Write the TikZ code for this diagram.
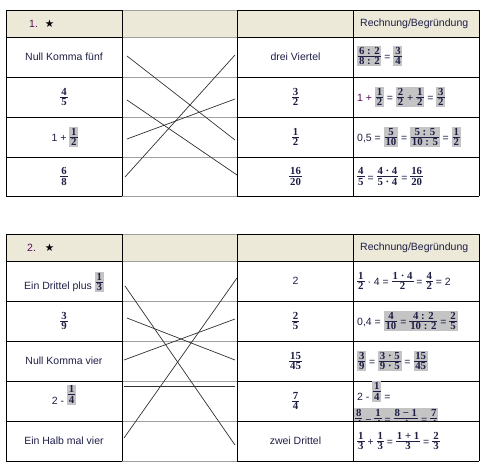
\documentclass[tikz,border=0pt]{standalone}
\usepackage{fontspec}
\usepackage{xcolor}
\setmainfont{Liberation Sans}
\newfontfamily\fserif{Liberation Serif}
\newfontfamily\dejavu{DejaVu Sans}
\definecolor{hdr}{HTML}{ECE9D8}
\definecolor{gridc}{HTML}{A0A0A0}
\definecolor{hl}{HTML}{C4C4C4}
\definecolor{txt}{HTML}{1E1E46}
\definecolor{purp}{HTML}{5A0A5A}
\definecolor{lin}{HTML}{303030}
\newcommand\Fr[2]{$\vcenter{\fserif\bfseries\fontsize{10.8}{10.8}\selectfont\offinterlineskip\halign{\hfil\kern1pt##\kern1pt\hfil\cr\vphantom{0}#1\cr\noalign{\kern1.4pt\hrule height0.7pt\kern1.4pt}\vphantom{0}#2\cr}}$}
\newcommand\F[3][2pt]{\raisebox{#1}{\Fr{#2}{#3}}}
\newcommand\G[1]{{\setlength\fboxsep{0.8pt}\colorbox{hl}{#1}}}
\newcommand\Star{{\dejavu\fontsize{10.5}{10.5}\selectfont\color{black}★}}
\tikzset{
  cell/.style={text=txt, font=\fontsize{10.5}{12}\selectfont, inner sep=0pt},
  calc/.style={cell, anchor=west},
  blk/.style={draw=black, line width=0.8pt},
  gry/.style={draw=gridc, line width=0.8pt},
  link/.style={draw=lin, line width=0.7pt}
}
\begin{document}
\begin{tikzpicture}[x=1pt,y=-1pt]
\useasboundingbox (0,0) rectangle (483,466);
% header fills
\fill[hdr] (6,10) rectangle (479,37);
\fill[hdr] (6,234) rectangle (479,261);
% clipped content of table 2, row 4, right cell
\begin{scope}
\clip (353.5,381.5) rectangle (478.5,420.6);
\node[cell, anchor=base west] (r24b) at (354,423) {\G{\F{8}{4} − \F{1}{4} = \F{8 − 1}{4} = \F{7}{4}}};
\end{scope}
% table 1 grid
\foreach \y in {10,37,77,117,157,196} {
  \draw[gry] (122,\y) -- (237,\y);
  \draw[blk] (6,\y) -- (122,\y);
  \draw[blk] (237,\y) -- (479,\y);
}
\foreach \x in {6,122,237,353,479} \draw[blk] (\x,10) -- (\x,196);
% table 2 grid
\foreach \y in {234,261,301,341,381,421,461} {
  \draw[gry] (122,\y) -- (237,\y);
  \draw[blk] (6,\y) -- (122,\y);
  \draw[blk] (237,\y) -- (479,\y);
}
\foreach \x in {6,122,237,353,479} \draw[blk] (\x,234) -- (\x,461);
% headers
\node[cell, anchor=west, text=purp] (h1) at (29,24) {1.};
\node[cell] (s1) at (49.5,23.5) {\Star};
\node[cell, anchor=west] (h1r) at (360,23.5) {Rechnung/Begründung};
\node[cell, anchor=west, text=purp] (h2) at (27,248) {2.};
\node[cell] (s2) at (49.5,247.5) {\Star};
\node[cell, anchor=west] (h2r) at (360,247.5) {Rechnung/Begründung};
% table 1 left
\node[cell] (l11) at (64,57) {Null Komma fünf};
\node[cell] (l12) at (64,97) {\F[0pt]{4}{5}};
\node[cell] (l13) at (65,137) {1 + \G{\F{1}{2}}};
\node[cell] (l14) at (64,176.5) {\F[0pt]{6}{8}};
% table 1 middle right
\node[cell] (m11) at (295.5,57) {drei Viertel};
\node[cell] (m12) at (295.5,97) {\F[0pt]{3}{2}};
\node[cell] (m13) at (295.5,137) {\F[0pt]{1}{2}};
\node[cell] (m14) at (295.5,176.5) {\F[0pt]{16}{20}};
% table 1 right
\node[calc] (r11) at (357,56) {\G{\F{6 : 2}{8 : 2}} = \G{\F{3}{4}}};
\node[calc] (r12) at (357,97) {{\color{purp}1 +} \G{\F{1}{2}} = \G{\F{2}{2} + \F{1}{2}} = \G{\F{3}{2}}};
\node[calc] (r13) at (357,137) {0,5 = \G{\F{5}{10}} = \G{\F{5 : 5}{10 : 5}} = \G{\F{1}{2}}};
\node[calc] (r14) at (357,176.5) {\F{4}{5} = \F{4 · 4}{5 · 4} = \F{16}{20}};
% table 2 left
\node[cell] (l21) at (64,282) {Ein Drittel plus \G{\F[5pt]{1}{3}}};
\node[cell] (l22) at (64,321) {\F[0pt]{3}{9}};
\node[cell] (l23) at (64,361) {Null Komma vier};
\node[cell] (l24) at (64,395) {2 - \G{\F[7pt]{1}{4}}};
\node[cell] (l25) at (64,441) {Ein Halb mal vier};
% table 2 middle right
\node[cell] (m21) at (295.5,281) {2};
\node[cell] (m22) at (295.5,321) {\F[0pt]{2}{5}};
\node[cell] (m23) at (295.5,361) {\F[0pt]{15}{45}};
\node[cell] (m24) at (295.5,401) {\F[0pt]{7}{4}};
\node[cell] (m25) at (295.5,441) {zwei Drittel};
% table 2 right
\node[calc] (r21) at (357,281) {\F{1}{2} · 4 = \F{1 · 4}{2} = \F{4}{2} = 2};
\node[calc] (r22) at (357,321) {0,4 = \G{\F{4}{10} = \F{4 : 2}{10 : 2} = \F{2}{5}}};
\node[calc] (r23) at (357,361) {\G{\F{3}{9}} = \G{\F{3 · 5}{9 · 5}} = \G{\F{15}{45}}};
\node[calc] (r24a) at (357,391.5) {2 - \G{\F[7pt]{1}{4}} =};
\node[calc] (r25) at (357,441) {\F{1}{3} + \F{1}{3} = \F{1 + 1}{3} = \F{2}{3}};
% connector end points
\coordinate (a1) at (127,56);  \coordinate (b1) at (235,55);
\coordinate (a2) at (127,100); \coordinate (b2) at (235,99);
\coordinate (a3) at (127,139); \coordinate (b3) at (235,140);
\coordinate (a4) at (125,177); \coordinate (b4) at (237,175);
\coordinate (c1) at (125,286); \coordinate (d1) at (237,278);
\coordinate (c2) at (127,318); \coordinate (d2) at (235,319);
\coordinate (c3) at (124,360); \coordinate (d3) at (235,360);
\coordinate (c4) at (124,386); \coordinate (d4) at (235,386);
\coordinate (c5) at (124,438); \coordinate (d5) at (235,445);
% connectors
\draw[link] (a1) -- (b3);
\draw[link] (a2) -- (b4);
\draw[link] (a3) -- (b2);
\draw[link] (a4) -- (b1);
\draw[link] (c1) -- (d5);
\draw[link] (c2) -- (d3);
\draw[link] (c3) -- (d2);
\draw[link] (c4) -- (d4);
\draw[link] (c5) -- (d1);
\end{tikzpicture}
\end{document}
